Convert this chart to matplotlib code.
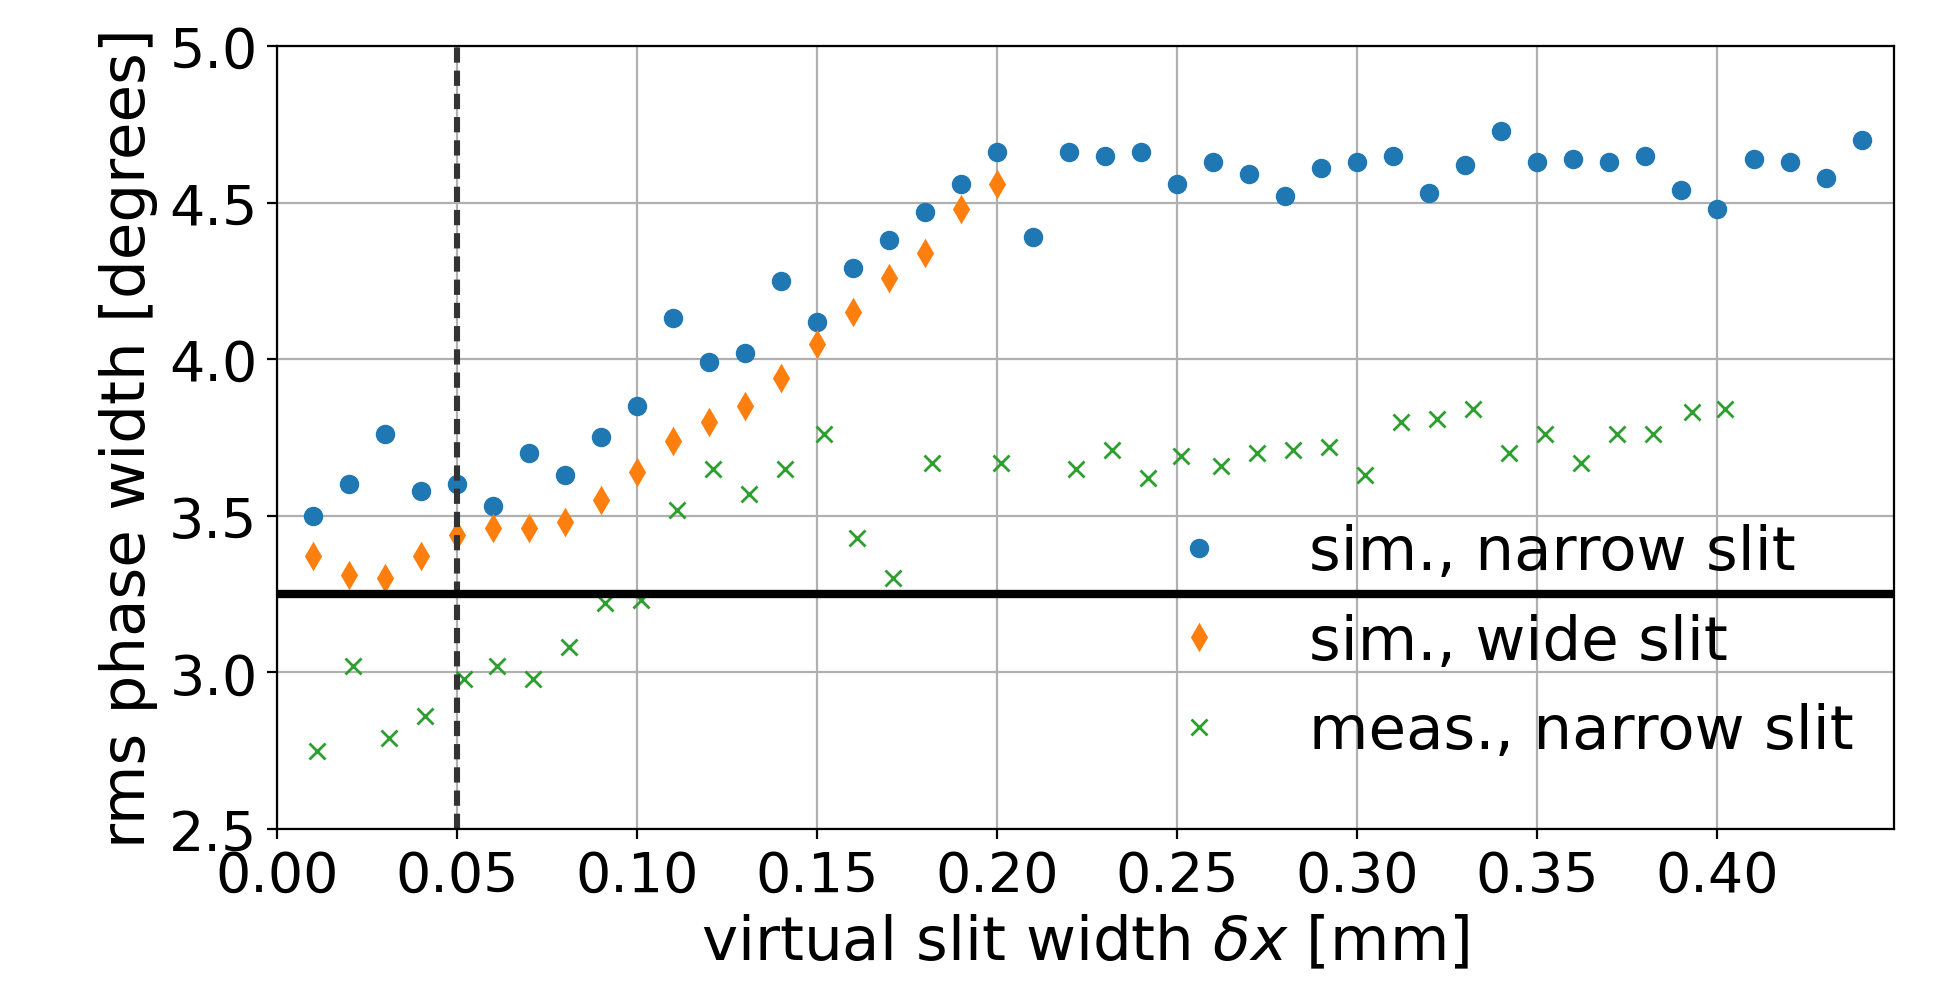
import numpy as np
import matplotlib
matplotlib.use('Agg')
import matplotlib.pyplot as plt

# 1. 데이터
sim_narrow_x = [0.01, 0.02, 0.03, 0.04, 0.05, 0.06, 0.07, 0.08, 0.09, 0.10,
                0.11, 0.12, 0.13, 0.14, 0.15, 0.16, 0.17, 0.18, 0.19, 0.20,
                0.21, 0.22, 0.23, 0.24, 0.25, 0.26, 0.27, 0.28, 0.29, 0.30,
                0.31, 0.32, 0.33, 0.34, 0.35, 0.36, 0.37, 0.38, 0.39, 0.40,
                0.41, 0.42, 0.43, 0.44]
sim_narrow_y = [3.50, 3.60, 3.76, 3.58, 3.60, 3.53, 3.70, 3.63, 3.75, 3.85,
                4.13, 3.99, 4.02, 4.25, 4.12, 4.29, 4.38, 4.47, 4.56, 4.66,
                4.39, 4.66, 4.65, 4.66, 4.56, 4.63, 4.59, 4.52, 4.61, 4.63,
                4.65, 4.53, 4.62, 4.73, 4.63, 4.64, 4.63, 4.65, 4.54, 4.48,
                4.64, 4.63, 4.58, 4.70]

sim_wide_x = [0.01, 0.02, 0.03, 0.04, 0.05, 0.06, 0.07, 0.08, 0.09, 0.10,
              0.11, 0.12, 0.13, 0.14, 0.15, 0.16, 0.17, 0.18, 0.19, 0.20]
sim_wide_y = [3.37, 3.31, 3.30, 3.37, 3.44, 3.46, 3.46, 3.48, 3.55, 3.64,
              3.74, 3.80, 3.85, 3.94, 4.05, 4.15, 4.26, 4.34, 4.48, 4.56]

meas_narrow_x = [0.011, 0.021, 0.031, 0.041, 0.052, 0.061, 0.071, 0.081, 0.091, 0.101,
                 0.111, 0.121, 0.131, 0.141, 0.152, 0.161, 0.171, 0.182, 0.201, 0.222,
                 0.232, 0.242, 0.251, 0.262, 0.272, 0.282, 0.292, 0.302, 0.312, 0.322,
                 0.332, 0.342, 0.352, 0.362, 0.372, 0.382, 0.393, 0.402]
meas_narrow_y = [2.75, 3.02, 2.79, 2.86, 2.98, 3.02, 2.98, 3.08, 3.22, 3.23,
                 3.52, 3.65, 3.57, 3.65, 3.76, 3.43, 3.30, 3.67, 3.67, 3.65,
                 3.71, 3.62, 3.69, 3.66, 3.70, 3.71, 3.72, 3.63, 3.80, 3.81,
                 3.84, 3.70, 3.76, 3.67, 3.76, 3.76, 3.83, 3.84]

slit_ref = 0.05
phase_ref = 3.25

# 2. 그리기
fig = plt.figure(figsize=(9.67, 4.935), dpi=200)
ax1 = fig.add_subplot(1, 1, 1)
fig.subplots_adjust(left=0.1432, right=0.9793, top=0.9524, bottom=0.1591)

ax1.plot(sim_narrow_x, sim_narrow_y, 'o', color='tab:blue', label='sim., narrow slit')
ax1.plot(sim_wide_x, sim_wide_y, 'd', color='tab:orange', label='sim., wide slit')
ax1.plot(meas_narrow_x, meas_narrow_y, 'x', color='tab:green', label='meas., narrow slit')

ax1.axvline(slit_ref, color='0.2', linestyle='--', linewidth=2.2, dashes=(2.5, 1.3))
ax1.axhline(phase_ref, color='k', linewidth=3)

ax1.set_xlim(0, 0.449)
ax1.set_ylim(2.5, 5.0)
ax1.set_xticks([0.0, 0.05, 0.10, 0.15, 0.20, 0.25, 0.30, 0.35, 0.40])
ax1.set_yticks([2.5, 3.0, 3.5, 4.0, 4.5, 5.0])
ax1.tick_params(labelsize=20)
ax1.grid(True)

plt.xlabel(r'virtual slit width $\delta x$ [mm]', fontsize=22)
plt.ylabel('rms phase width [degrees]', fontsize=22)
plt.legend(loc='lower right', frameon=False, fontsize=22, bbox_to_anchor=(1.009, 0.016))
plt.savefig('out.png', dpi=200)
